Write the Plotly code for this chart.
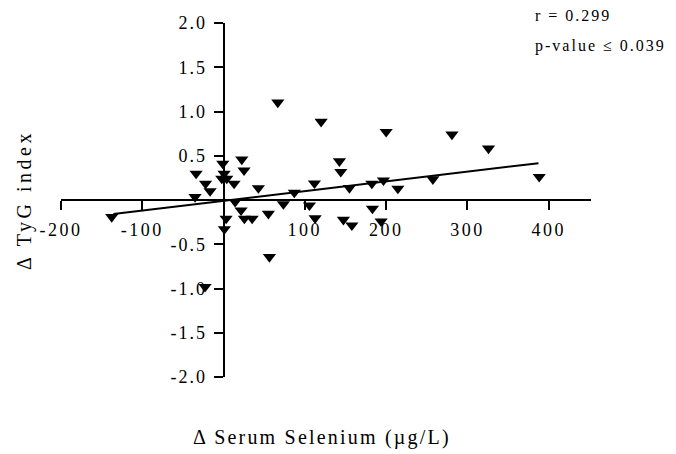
import plotly.graph_objects as go

# Data
selenium_delta = [
    -137.6, -33.8, -22.2, -16.6, -35.1, -1.0, 0.6, -2.2, 3.9, 22.4, 25.2,
    12.9, 42.8, 14.2, 21.5, 25.6, 35.1, 55.1, 3.1, 1.0, 56.4, 66.7,
    120.0, 73.6, 87.0, 105.6, 112.6, 111.8, -22.8, 142.5, 144.2, 154.8,
    182.4, 196.7, 214.4, 147.4, 157.8, 183.1, 193.8, 200.0, 280.9, 325.9,
    257.5, 388.3,
]
tyg_delta = [
    -0.191, 0.299, 0.186, 0.101, 0.035, 0.412, 0.299, 0.242, 0.242, 0.458, 0.336,
    0.186, 0.135, -0.021, -0.116, -0.210, -0.210, -0.154, -0.210, -0.329, -0.644, 1.103,
    0.885, -0.046, 0.084, -0.060, -0.205, 0.189, -0.981, 0.438, 0.318, 0.137,
    0.186, 0.223, 0.129, -0.222, -0.286, -0.097, -0.241, 0.771, 0.741, 0.582,
    0.235, 0.262,
]
fit_x = [-135.6, 387.4]
fit_y = [-0.159, 0.416]

x_tickvals = [-200, -100, 100, 200, 300, 400]
x_ticktext = ["-200", "-100", "100", "200", "300", "400"]
y_tickvals = [2.0, 1.5, 1.0, 0.5, -0.5, -1.0, -1.5, -2.0]
y_ticktext = ["2.0", "1.5", "1.0", "0.5", "-0.5", "-1.0", "-1.5", "-2.0"]

r_text = "r = 0.299"
p_text = "p-value \u2264 0.039"
x_title = "\u0394 Serum Selenium (\u00b5g/L)"
y_title = "\u0394 TyG index"

FONT = "Liberation Serif, Times New Roman, serif"


def spaced(t, px):
    return '<span style="letter-spacing:%spx">%s</span>' % (px, t)


fig = go.Figure()
fig.add_trace(go.Scatter(
    x=fit_x, y=fit_y, mode="lines",
    line=dict(color="black", width=2), hoverinfo="skip", showlegend=False,
))
fig.add_trace(go.Scatter(
    x=selenium_delta, y=tyg_delta, mode="markers",
    marker=dict(symbol="triangle-down", size=11.5, color="black"),
    showlegend=False, cliponaxis=False,
))

axis_common = dict(
    showgrid=False, zeroline=False, showline=True, linecolor="black",
    linewidth=2, ticks="outside", ticklen=9, tickwidth=2, tickcolor="black",
    tickfont=dict(family=FONT, size=18, color="black"), anchor="free",
    automargin=False,
)

fig.update_layout(
    width=676, height=454,
    margin=dict(l=53, r=93, t=15, b=85),
    plot_bgcolor="white", paper_bgcolor="white",
    font=dict(family=FONT, color="black"),
    xaxis=dict(
        range=[-200, 452], tickvals=x_tickvals,
        ticktext=[spaced(t, 2.5) for t in x_ticktext],
        position=0.5, ticklabelstandoff=4, **axis_common,
    ),
    yaxis=dict(
        range=[-2, 2], tickvals=y_tickvals,
        ticktext=[spaced(t, 2) for t in y_ticktext],
        position=200 / 652, ticklabelstandoff=3, **axis_common,
    ),
    annotations=[
        dict(text=spaced(r_text, 2.0), x=0.8906, y=1.02, xref="paper", yref="paper",
             xanchor="left", yanchor="middle", showarrow=False,
             font=dict(family=FONT, size=16, color="black")),
        dict(text=spaced(p_text, 2.0), x=0.8906, y=0.935, xref="paper", yref="paper",
             xanchor="left", yanchor="middle", showarrow=False,
             font=dict(family=FONT, size=16, color="black")),
        dict(text=spaced(x_title, 2.2), x=0.4925, y=-0.172, xref="paper", yref="paper",
             xanchor="center", yanchor="middle", showarrow=False,
             font=dict(family=FONT, size=20, color="black")),
        dict(text=spaced(y_title, 3.5), x=-0.0698, y=0.5, xref="paper", yref="paper",
             xanchor="center", yanchor="middle", showarrow=False, textangle=-90,
             font=dict(family=FONT, size=20, color="black")),
    ],
)

fig.write_html("out.html")
